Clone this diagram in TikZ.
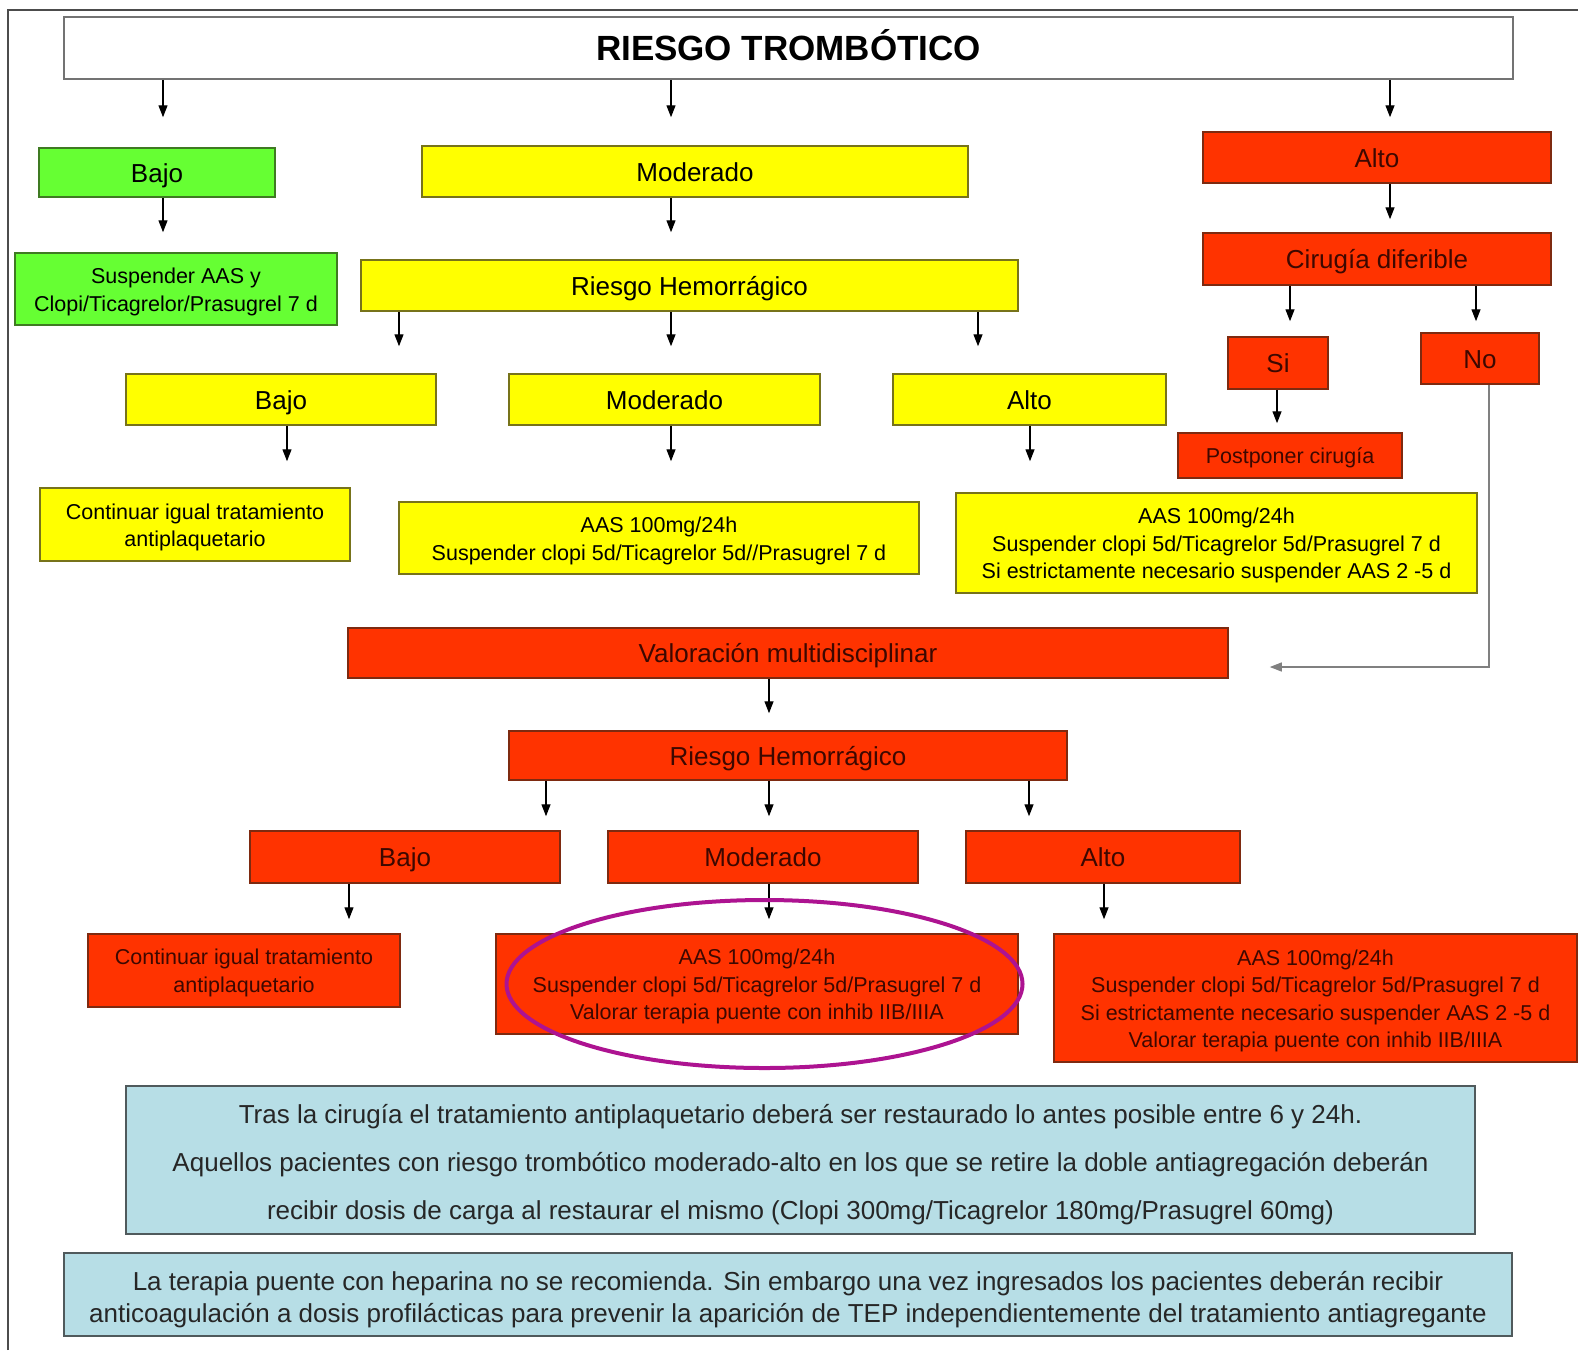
\documentclass[tikz,border=0pt]{standalone}
\usepackage{fontspec}
\setmainfont{Liberation Sans}
\usetikzlibrary{arrows.meta}
\definecolor{verde}{HTML}{66FF33}
\definecolor{verdeborde}{HTML}{3F7A22}
\definecolor{amarillo}{HTML}{FFFF00}
\definecolor{amarilloborde}{HTML}{77731A}
\definecolor{rojo}{HTML}{FF3300}
\definecolor{rojoborde}{HTML}{7E2A10}
\definecolor{rojotexto}{HTML}{3D0800}
\definecolor{azul}{HTML}{B7DEE6}
\definecolor{azulborde}{HTML}{505A5C}
\definecolor{lila}{HTML}{AD1391}
\newcommand\bajar[1]{\rule{0pt}{#1}}
\begin{document}
\begin{tikzpicture}[x=1pt,y=-1pt,
  caja/.style={draw,line width=1.5pt,inner sep=0pt,align=center,
    font=\fontsize{26}{31}\selectfont},
  una/.style={text height=20pt,text depth=1pt},
  chico/.style={font=\fontsize{21.5}{27.5}\selectfont},
  verdebox/.style={caja,fill=verde,draw=verdeborde},
  amabox/.style={caja,fill=amarillo,draw=amarilloborde},
  rojobox/.style={caja,fill=rojo,draw=rojoborde,text=rojotexto},
  notabox/.style={caja,fill=azul,draw=azulborde,text=black!85},
  flecha/.style={-{Triangle[length=12pt,width=9pt]},line width=1.3pt}]
\useasboundingbox (0,0) rectangle (1578,1350);
\draw[line width=1.5pt,black!70] (8,1350) |- (1578,10);

% riesgo trombotico
\node[caja,draw=black!55,fill=white,minimum width=1449pt,minimum height=62pt,
  font=\fontsize{35}{40}\selectfont\bfseries,text height=25pt,text depth=0pt] (titulo) at (788.5,48) {RIESGO TROMBÓTICO};

% bajo
\node[verdebox,una,minimum width=236pt,minimum height=49pt] (bajoT) at (157,172.5) {Bajo};
\node[verdebox,chico,minimum width=322pt,minimum height=72pt] (suspT) at (176,289)
  {\bajar{21pt}Suspender AAS y\\Clopi/Ticagrelor/Prasugrel 7 d};

% moderado
\node[amabox,una,minimum width=546pt,minimum height=51pt] (modT) at (695,171.5) {Moderado};
\node[amabox,una,minimum width=657pt,minimum height=51pt] (hemoA) at (689.5,285.5) {Riesgo Hemorrágico};
\node[amabox,una,minimum width=310pt,minimum height=51pt] (bajoA) at (281,399.5) {Bajo};
\node[amabox,una,minimum width=311pt,minimum height=51pt] (modA) at (664.5,399.5) {Moderado};
\node[amabox,una,minimum width=273pt,minimum height=51pt] (altoA) at (1029.5,399.5) {Alto};
\node[amabox,chico,minimum width=310pt,minimum height=73pt] (contA) at (195,524.5)
  {\bajar{21pt}Continuar igual tratamiento\\antiplaquetario};
\node[amabox,chico,minimum width=520pt,minimum height=72pt] (aasA) at (659,538)
  {\bajar{21pt}AAS 100mg/24h\\Suspender clopi 5d/Ticagrelor 5d//Prasugrel 7 d};
\node[amabox,chico,minimum width=521pt,minimum height=100pt] (aasA2) at (1216.5,543)
  {\bajar{21pt}AAS 100mg/24h\\Suspender clopi 5d/Ticagrelor 5d/Prasugrel 7 d\\Si estrictamente necesario suspender AAS 2 -5 d};

% alto
\node[rojobox,una,minimum width=348pt,minimum height=51pt] (altoT) at (1377,157.5) {Alto};
\node[rojobox,una,minimum width=348pt,minimum height=52pt] (ciru) at (1377,259) {Cirugía diferible};
\node[rojobox,una,minimum width=100pt,minimum height=52pt] (si) at (1278,363) {Si};
\node[rojobox,una,minimum width=118pt,minimum height=51pt] (no) at (1480,358.5) {No};
\node[rojobox,chico,minimum width=224pt,minimum height=45pt,text height=16.5pt,text depth=1pt] (pospo) at (1290,455.5) {Postponer cirugía};
\node[rojobox,una,minimum width=880pt,minimum height=50pt] (valor) at (788,653) {Valoración multidisciplinar};
\node[rojobox,una,minimum width=558pt,minimum height=49pt] (hemoR) at (788,755.5) {Riesgo Hemorrágico};
\node[rojobox,una,minimum width=310pt,minimum height=52pt] (bajoR) at (405,857) {Bajo};
\node[rojobox,una,minimum width=310pt,minimum height=52pt] (modR) at (763,857) {Moderado};
\node[rojobox,una,minimum width=274pt,minimum height=52pt] (altoR) at (1103,857) {Alto};
\node[rojobox,chico,minimum width=312pt,minimum height=73pt] (contR) at (244,970.5)
  {\bajar{20pt}Continuar igual tratamiento\\antiplaquetario};
\node[rojobox,chico,minimum width=522pt,minimum height=100pt] (aasR) at (757,984)
  {\bajar{21pt}AAS 100mg/24h\\Suspender clopi 5d/Ticagrelor 5d/Prasugrel 7 d\\Valorar terapia puente con inhib IIB/IIIA};
\node[rojobox,chico,minimum width=523pt,minimum height=128pt] (aasR2) at (1315.5,998)
  {\bajar{21pt}AAS 100mg/24h\\Suspender clopi 5d/Ticagrelor 5d/Prasugrel 7 d\\Si estrictamente necesario suspender AAS 2 -5 d\\Valorar terapia puente con inhib IIB/IIIA};

% notas
\node[notabox,minimum width=1349pt,minimum height=148pt,font=\fontsize{26}{48}\selectfont] (nota1) at (800.5,1160)
  {\bajar{29pt}Tras la cirugía el tratamiento antiplaquetario deberá ser restaurado lo antes posible entre 6 y 24h.\\
   Aquellos pacientes con riesgo trombótico moderado-alto en los que se retire la doble antiagregación deberán\\
   recibir dosis de carga al restaurar el mismo (Clopi 300mg/Ticagrelor 180mg/Prasugrel 60mg)};
\node[notabox,minimum width=1448pt,minimum height=83pt,font=\fontsize{26}{32}\selectfont] (nota2) at (788,1294.5)
  {\bajar{29pt}La terapia puente con heparina no se recomienda. Sin embargo una vez ingresados los pacientes deberán recibir\\
   anticoagulación a dosis profilácticas para prevenir la aparición de TEP independientemente del tratamiento antiagregante};

% flechas
\draw[flecha,shorten >=30pt] (titulo.south -| 163,0) -- (bajoT.north -| 163,0);
\draw[flecha,shorten >=28pt] (titulo.south -| 671,0) -- (modT.north -| 671,0);
\draw[flecha,shorten >=14pt] (titulo.south -| 1390,0) -- (altoT.north -| 1390,0);
\draw[flecha,shorten >=20pt] (bajoT.south -| 163,0) -- (suspT.north -| 163,0);
\draw[flecha,shorten >=27pt] (modT.south -| 671,0) -- (hemoA.north -| 671,0);
\draw[flecha,shorten >=27pt] (hemoA.south -| 399,0) -- (bajoA.north -| 399,0);
\draw[flecha,shorten >=27pt] (hemoA.south -| 671,0) -- (modA.north -| 671,0);
\draw[flecha,shorten >=27pt] (hemoA.south -| 978,0) -- (altoA.north -| 978,0);
\draw[flecha,shorten >=26pt] (bajoA.south -| 287,0) -- (contA.north -| 287,0);
\draw[flecha,shorten >=40pt] (modA.south -| 671,0) -- (aasA.north -| 671,0);
\draw[flecha,shorten >=31pt] (altoA.south -| 1030,0) -- (aasA2.north -| 1030,0);
\draw[flecha,shorten >=13pt] (altoT.south -| 1390,0) -- (ciru.north -| 1390,0);
\draw[flecha,shorten >=15pt] (ciru.south -| 1290,0) -- (si.north -| 1290,0);
\draw[flecha,shorten >=11pt] (ciru.south -| 1476,0) -- (no.north -| 1476,0);
\draw[flecha,shorten >=9pt] (si.south -| 1277,0) -- (pospo.north -| 1277,0);
\coordinate (noesq) at (1489,667);
\draw[flecha,draw=black!50] (no.south -| noesq) -- (noesq) -- ([xshift=41pt]valor.east |- noesq);
\draw[flecha,shorten >=17pt] (valor.south -| 769,0) -- (hemoR.north -| 769,0);
\draw[flecha,shorten >=14pt] (hemoR.south -| 546,0) -- (bajoR.north -| 546,0);
\draw[flecha,shorten >=14pt] (hemoR.south -| 769,0) -- (modR.north -| 769,0);
\draw[flecha,shorten >=14pt] (hemoR.south -| 1029,0) -- (altoR.north -| 1029,0);
\draw[flecha,shorten >=14pt] (bajoR.south -| 349,0) -- (contR.north -| 349,0);
\draw[flecha,shorten >=14pt] (modR.south -| 769,0) -- (aasR.north -| 769,0);
\draw[flecha,shorten >=14pt] (altoR.south -| 1104,0) -- (aasR2.north -| 1104,0);

% resaltado
\draw[lila,line width=4pt] (764.5,984) ellipse [x radius=258pt,y radius=84pt];
\end{tikzpicture}
\end{document}
